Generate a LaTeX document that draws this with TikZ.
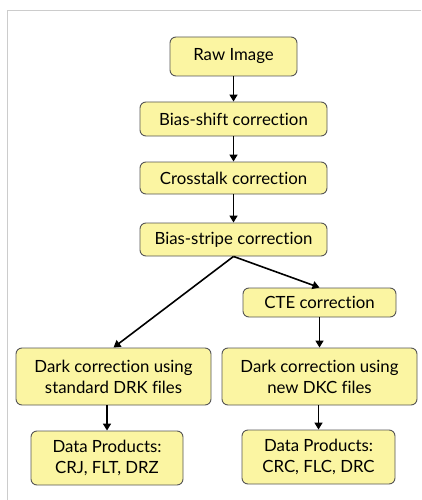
\documentclass[tikz,border=0pt]{standalone}
\usepackage{fontspec}
\setmainfont{Lato}[RawFeature=-liga]
\usetikzlibrary{arrows.meta}
\definecolor{boxfill}{HTML}{FBF5A2}
\definecolor{boxline}{HTML}{555555}
\definecolor{framegray}{HTML}{CCCCCC}
\tikzset{
  flowbox/.style={draw=boxline, line width=0.9pt, fill=boxfill, rounded corners=6pt,
    align=center, inner sep=0pt, font=\fontsize{16.8}{21}\selectfont},
  flowarrow/.style={line width=1.6pt, -{Triangle[length=7pt,width=8pt]}}
}
\begin{document}
\begin{tikzpicture}[x=1pt,y=-1pt]
\useasboundingbox (0,0) rectangle (421,500);
\draw[framegray, line width=1pt] (7,500) -- (7,11) -- (421,11);
\node[flowbox, minimum width=127pt, minimum height=39pt] (raw) at (233.5,56.5) {Raw Image};
\node[flowbox, minimum width=187pt, minimum height=34pt] (bsh) at (233.5,119) {Bias-shift correction};
\node[flowbox, minimum width=187pt, minimum height=32pt] (ct) at (233.5,178) {Crosstalk correction};
\node[flowbox, minimum width=187pt, minimum height=33pt] (bst) at (233.5,239.5) {Bias-stripe correction};
\node[flowbox, minimum width=153pt, minimum height=29pt] (cte) at (319.5,302.5) {CTE correction};
\node[flowbox, minimum width=195pt, minimum height=57pt] (dl) at (113.5,376.5) {Dark correction using\\standard DRK files};
\node[flowbox, minimum width=195pt, minimum height=57pt] (dr) at (319.5,376.5) {Dark correction using\\new DKC files};
\node[flowbox, minimum width=152pt, minimum height=54pt] (pl) at (107,458) {Data Products:\\CRJ, FLT, DRZ};
\node[flowbox, minimum width=153pt, minimum height=54pt] (pr) at (318.5,457) {Data Products:\\CRC, FLC, DRC};
\draw[flowarrow] (raw) -- (bsh);
\draw[flowarrow] (bsh) -- (ct);
\draw[flowarrow] (ct) -- (bst);
\draw[flowarrow] (bst.south) -- (dl.north);
\draw[flowarrow] (bst.south) -- (cte.north);
\draw[flowarrow] (cte) -- (dr);
\draw[flowarrow] (dl.south -| pl.north) -- (pl.north);
\draw[flowarrow] (dr.south -| pr.north) -- (pr.north);
\end{tikzpicture}
\end{document}
